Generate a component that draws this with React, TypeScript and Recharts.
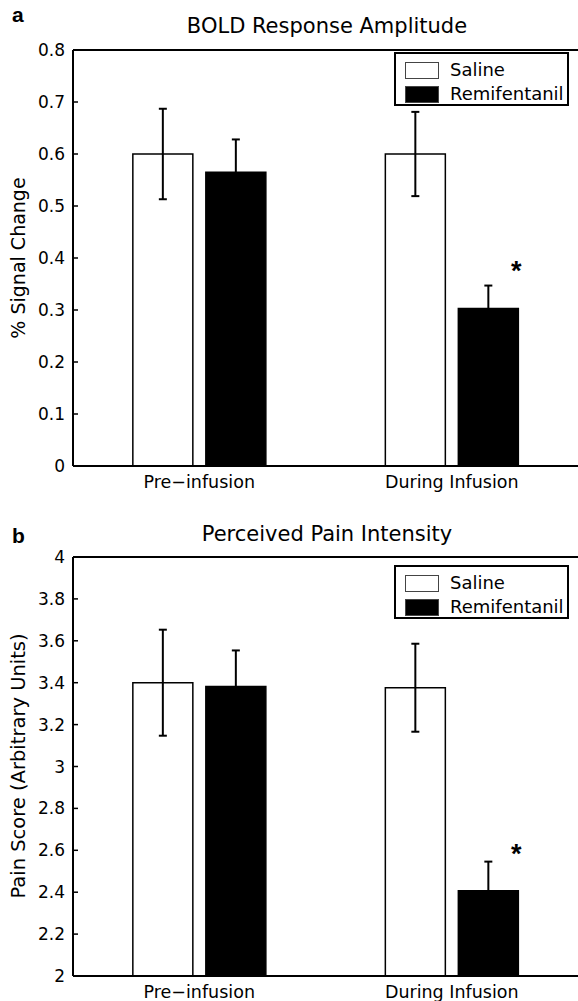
import React from 'react';
import { BarChart, Bar, XAxis, YAxis, ErrorBar, LabelList, Legend, ReferenceLine } from 'recharts';

// categories + series
const phases = ['Pre\u2212infusion', 'During Infusion'];
const seriesNames = ['Saline', 'Remifentanil'];
const seriesFills = ['#fff', '#000'];
const significance = ['', '*'];

// panel a: BOLD response amplitude (% signal change)
const boldSaline = [0.6, 0.6];
const boldSalineErr = [0.087, 0.081];
const boldRemi = [0.565, 0.303];
const boldRemiErr = [0.063, 0.044];
const boldTicks = [0, 0.1, 0.2, 0.3, 0.4, 0.5, 0.6, 0.7, 0.8];

// panel b: perceived pain intensity
const painSaline = [3.4, 3.376];
const painSalineErr = [0.253, 0.21];
const painRemi = [3.382, 2.407];
const painRemiErr = [0.172, 0.139];
const painTicks = [2, 2.2, 2.4, 2.6, 2.8, 3, 3.2, 3.4, 3.6, 3.8, 4];

const FONT = '"DejaVu Sans", sans-serif';

const makeRows = (sal: number[], salErr: number[], rem: number[], remErr: number[]) =>
  phases.map((phase, i) => ({
    phase,
    saline: sal[i],
    salineErr: salErr[i],
    remi: rem[i],
    remiErr: remErr[i],
    sig: significance[i],
  }));

// matlab-style boxed legend, keeps the plotting order (recharts sorts by name)
const LegendBox = () => (
  <div
    style={{
      width: 175,
      height: 54,
      boxSizing: 'border-box',
      border: '2px solid #000',
      background: '#fff',
      padding: '4px 0 0 9px',
      fontFamily: FONT,
    }}
  >
    {seriesNames.map((name, i) => (
      <div key={name} style={{ display: 'flex', alignItems: 'center', height: 24 }}>
        <span
          style={{
            display: 'inline-block',
            width: 34,
            height: 17,
            boxSizing: 'border-box',
            border: '1px solid #444',
            background: seriesFills[i],
          }}
        />
        <span style={{ marginLeft: 11, fontSize: 18, lineHeight: '24px', color: '#000' }}>{name}</span>
      </div>
    ))}
  </div>
);

const Asterisk = (props: any) => {
  const { x, y, width, value } = props;
  if (!value) return null;
  return (
    <text
      x={x + width - 2}
      y={y - 28}
      textAnchor="middle"
      fontFamily='"Liberation Sans", sans-serif'
      fontWeight="bold"
      fontSize={27}
      fill="#000"
    >
      {value}
    </text>
  );
};

interface PanelProps {
  rows: any[];
  ticks: number[];
  height: number;
  plotHeight: number;
  legendTop: number;
}

function Panel({ rows, ticks, height, plotHeight, legendTop }: PanelProps) {
  const domain = [ticks[0], ticks[ticks.length - 1]];
  return (
    <BarChart
      width={578}
      height={height}
      data={rows}
      margin={{ top: 50, right: 0, left: 0, bottom: 0 }}
      barCategoryGap="23.7%"
      barGap={13}
    >
      <XAxis
        dataKey="phase"
        tickLine={false}
        tickSize={0}
        tickMargin={10}
        height={height - 50 - plotHeight}
        axisLine={{ stroke: '#000', strokeWidth: 2 }}
        tick={{ fill: '#000', fontSize: 17.5, fontFamily: FONT }}
      />
      <YAxis
        domain={domain}
        ticks={ticks}
        width={73}
        tickSize={-5}
        tickMargin={13}
        interval={0}
        tickFormatter={(v: number) => String(v)}
        axisLine={{ stroke: '#000', strokeWidth: 2 }}
        tickLine={{ stroke: '#000', strokeWidth: 1.5 }}
        tick={{ fill: '#000', fontSize: 17, fontFamily: FONT }}
      />
      <YAxis
        yAxisId="r"
        orientation="right"
        domain={domain}
        ticks={ticks}
        width={0}
        mirror
        tickSize={5}
        tick={false}
        interval={0}
        axisLine={{ stroke: '#000', strokeWidth: 2 }}
        tickLine={{ stroke: '#000', strokeWidth: 1.5 }}
      />
      <ReferenceLine y={domain[1]} stroke="#000" strokeWidth={2} />
      <Legend
        layout="horizontal"
        verticalAlign="middle"
        align="center"
        wrapperStyle={{ top: legendTop, left: 394, width: 175, height: 54 }}
        content={<LegendBox />}
      />
      <Bar dataKey="saline" name={seriesNames[0]} fill={seriesFills[0]} stroke="#000" strokeWidth={1.5} isAnimationActive={false}>
        <ErrorBar dataKey="salineErr" direction="y" width={4} stroke="#000" strokeWidth={2} />
      </Bar>
      <Bar dataKey="remi" name={seriesNames[1]} fill={seriesFills[1]} stroke="#000" strokeWidth={1.5} isAnimationActive={false}>
        <ErrorBar dataKey="remiErr" direction="y" width={4} stroke="#000" strokeWidth={2} />
        <LabelList dataKey="sig" content={<Asterisk />} />
      </Bar>
    </BarChart>
  );
}

export default function App() {
  const boldRows = makeRows(boldSaline, boldSalineErr, boldRemi, boldRemiErr);
  const painRows = makeRows(painSaline, painSalineErr, painRemi, painRemiErr);
  return (
    <div style={{ position: 'absolute', top: 0, left: 0, width: 578, height: 1001, background: '#fff', fontFamily: FONT, overflow: 'hidden' }}>
      <div style={{ position: 'absolute', top: 0, left: 0 }}>
        <Panel rows={boldRows} ticks={boldTicks} height={500} plotHeight={416} legendTop={52} />
      </div>
      <div style={{ position: 'absolute', top: 507, left: 0 }}>
        <Panel rows={painRows} ticks={painTicks} height={494} plotHeight={419} legendTop={58} />
      </div>
      <svg width={578} height={1001} style={{ position: 'absolute', top: 0, left: 0, pointerEvents: 'none' }}>
        <text x={12} y={22} fontFamily='"Liberation Sans", sans-serif' fontWeight="bold" fontSize={21}>a</text>
        <text x={327} y={33} textAnchor="middle" fontFamily={FONT} fontSize={21}>BOLD Response Amplitude</text>
        <text x={18} y={258} transform="rotate(-90 18 258)" textAnchor="middle" dominantBaseline="central" fontFamily={FONT} fontSize={19}>
          % Signal Change
        </text>
        <text x={12} y={543} fontFamily='"Liberation Sans", sans-serif' fontWeight="bold" fontSize={21}>b</text>
        <text x={327} y={541} textAnchor="middle" fontFamily={FONT} fontSize={21}>Perceived Pain Intensity</text>
        <text x={18} y={766} transform="rotate(-90 18 766)" textAnchor="middle" dominantBaseline="central" fontFamily={FONT} fontSize={19.5}>
          Pain Score (Arbitrary Units)
        </text>
      </svg>
    </div>
  );
}
